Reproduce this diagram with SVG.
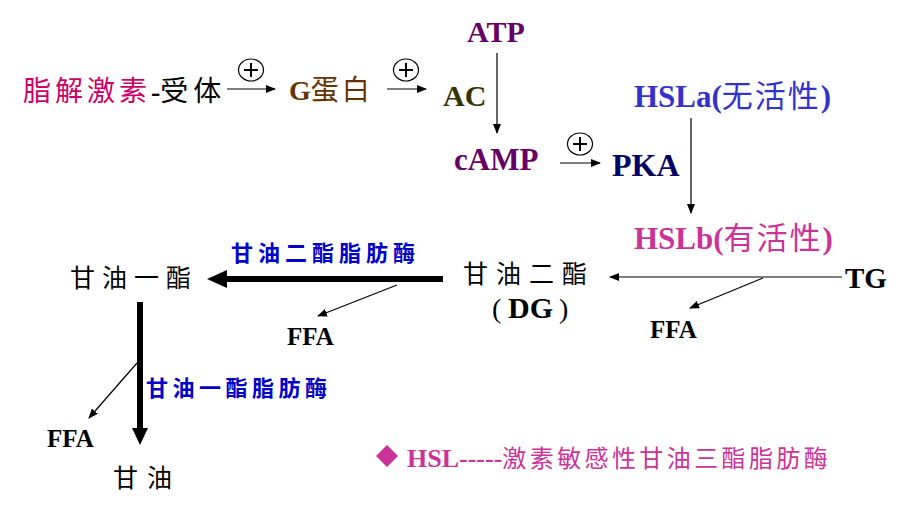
<svg xmlns="http://www.w3.org/2000/svg" width="910" height="516" viewBox="0 0 910 516">
<style>
.lat{font-family:"Liberation Serif","Times New Roman",serif;font-weight:bold;}
.cjk{font-family:"Noto Sans CJK SC","Noto Sans CJK TC",sans-serif;}
.thin{stroke:#000;stroke-width:1.2;fill:none;}
.thick{stroke:#000;stroke-width:6;fill:none;}
.plus{fill:none;stroke:#000;stroke-width:1.2;}
</style>
<defs>
<marker id="ah" markerUnits="userSpaceOnUse" markerWidth="10" markerHeight="8" refX="9" refY="4" orient="auto">
<path d="M0,0 L10,4 L0,8 z" fill="#000"/>
</marker>
<g id="plusSign"><ellipse cx="0" cy="0" rx="12.5" ry="11" class="plus"/><path d="M-7,0 H7 M0,-7 V7" stroke="#000" stroke-width="2"/></g>
</defs>
<rect width="910" height="516" fill="#fff"/>

<g id="connectors">
<path class="thin" d="M227,89 H275" marker-end="url(#ah)"/>
<path class="thin" d="M387,89 H426" marker-end="url(#ah)"/>
<path class="thin" d="M497,53 V133" marker-end="url(#ah)"/>
<path class="thin" d="M560,163 H600" marker-end="url(#ah)"/>
<path class="thin" d="M691,118 V213" marker-end="url(#ah)"/>
<path class="thin" d="M842,277 H610" marker-end="url(#ah)"/>
<path class="thin" d="M763,278 L690,308" marker-end="url(#ah)"/>
<path class="thin" d="M397,285 L318,316" marker-end="url(#ah)"/>
<path class="thick" d="M443,279 H224"/>
<polygon points="207,279 227,270 227,288" fill="#000"/>
<path class="thick" d="M140,302 V430"/>
<polygon points="140,445 132,428 148,428" fill="#000"/>
<path class="thin" d="M137,363 L89,418" marker-end="url(#ah)"/>
<use href="#plusSign" x="251" y="70"/>
<use href="#plusSign" x="406" y="70"/>
<use href="#plusSign" x="580" y="144"/>
</g>

<g id="hormone"><text y="101" font-size="28"><tspan x="23" class="cjk" fill="#CC0066" letter-spacing="4">脂解激素</tspan><tspan class="lat" fill="#000" font-weight="normal">-</tspan><tspan class="cjk" fill="#000" letter-spacing="5">受体</tspan></text></g>
<g id="gprotein"><text y="100" fill="#663300"><tspan x="289" class="lat" font-size="28">G</tspan><tspan class="cjk" font-size="28" letter-spacing="3">蛋白</tspan></text></g>
<g id="ac"><text x="443" y="106" class="lat" font-size="30" fill="#333300">AC</text></g>
<g id="atp"><text x="467" y="42" class="lat" font-size="30" fill="#660066">ATP</text></g>
<g id="camp"><text x="454" y="170" class="lat" font-size="31" fill="#660066">cAMP</text></g>
<g id="pka"><text x="612" y="176" class="lat" font-size="32" fill="#000066">PKA</text></g>
<g id="hsla"><text y="107" fill="#3333CC" font-size="31"><tspan x="634" class="lat">HSLa(</tspan><tspan class="cjk" letter-spacing="2">无活性</tspan><tspan class="lat">)</tspan></text></g>
<g id="hslb"><text y="249" fill="#CC3399" font-size="31"><tspan x="634" class="lat">HSLb(</tspan><tspan class="cjk" letter-spacing="2">有活性</tspan><tspan class="lat">)</tspan></text></g>
<g id="tg"><text x="845" y="288" class="lat" font-size="29" fill="#000">TG</text></g>
<g id="ffa1"><text x="650" y="338" class="lat" font-size="25" fill="#000">FFA</text></g>
<g id="dg"><text x="463" y="283" class="cjk" font-size="25" letter-spacing="8" fill="#000">甘油二酯</text>
<text y="318" font-size="28" fill="#000"><tspan x="492" font-family="Liberation Serif, serif">(</tspan><tspan x="508" class="lat" font-size="30">DG</tspan><tspan x="559" font-family="Liberation Serif, serif">)</tspan></text></g>
<g id="dglipase"><text x="231" y="261" class="cjk" font-size="22" font-weight="bold" letter-spacing="5" fill="#0000CC">甘油二酯脂肪酶</text></g>
<g id="ffa2"><text x="287" y="345" class="lat" font-size="25" fill="#000">FFA</text></g>
<g id="mg"><text x="70" y="287" class="cjk" font-size="25" letter-spacing="7" fill="#000">甘油一酯</text></g>
<g id="mglipase"><text x="146" y="396" class="cjk" font-size="22" font-weight="bold" letter-spacing="4.5" fill="#0000CC">甘油一酯脂肪酶</text></g>
<g id="ffa3"><text x="47" y="447" class="lat" font-size="25" fill="#000">FFA</text></g>
<g id="glycerol"><text x="113" y="487" class="cjk" font-size="25" letter-spacing="9" fill="#000">甘油</text></g>
<g id="note"><polygon points="387,445 398,456 387,467 376,456" fill="#CC3399"/>
<text y="467" fill="#CC3399"><tspan x="407" class="lat" font-size="26">HSL-----</tspan><tspan class="cjk" font-size="24" letter-spacing="3.4">激素敏感性甘油三酯脂肪酶</tspan></text></g>
</svg>
